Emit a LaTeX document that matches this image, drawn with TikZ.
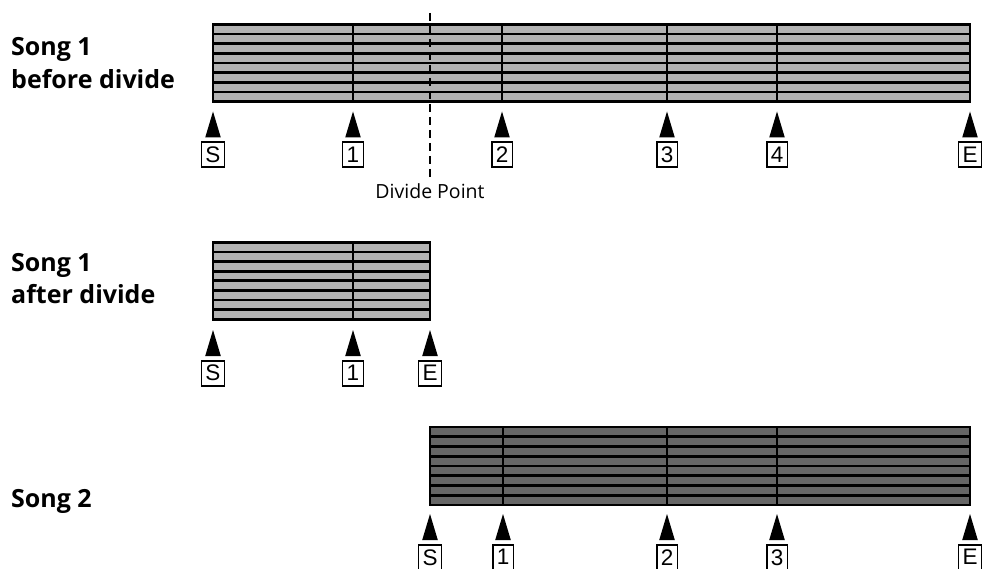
\documentclass[tikz,border=0pt]{standalone}
\usepackage{fontspec}
\setmainfont{Open Sans}
\newfontfamily\boxfont{Liberation Sans}
\definecolor{lightbar}{HTML}{B3B3B3}
\definecolor{darkbar}{HTML}{666666}
\tikzset{
  songlabel/.style={font=\fontsize{25}{28}\selectfont\bfseries, anchor=base west, inner sep=0pt},
  markbox/.style={draw, line width=1.5pt, font=\boxfont\fontsize{22.5}{22.5}\selectfont,
    minimum height=25pt, inner xsep=4pt, inner ysep=0pt, anchor=north},
  marktri/.style={fill=black},
  stripe/.style={line width=2.7pt, line cap=rect},
  division/.style={line width=1.4pt},
  divline/.style={line width=2.5pt, dash pattern=on 8pt off 5pt},
}
% bar: x1, x2, y1, y2, fill colour
\newcommand\songbar[5]{%
  \fill[#5] (#1,#3) rectangle (#2,#4);
  \foreach \i in {0,...,8}{\draw[stripe] (#1,{#3+\i*(#4-#3)/8}) -- (#2,{#3+\i*(#4-#3)/8});}
  \draw[stripe] (#1,#3) -- (#1,#4) (#2,#3) -- (#2,#4);
}
% marker: name, x, apex y, label
\newcommand\songmark[4]{%
  \fill[marktri] (#2,#3) -- (#2-7.8,#3+26) -- (#2+7.8,#3+26) -- cycle;
  \node[markbox] (#1) at (#2,#3+30) {#4};
}
\begin{document}
\begin{tikzpicture}[x=1pt,y=-1pt]
\useasboundingbox (0,0) rectangle (987,569);
% ---------- Song 1 before divide
\node[songlabel] (l1a) at (11,56) {Song 1};
\node[songlabel] (l1b) at (11,89) {before divide};
\songbar{213}{970}{24.3}{101.7}{lightbar}
\foreach \x in {353,502,667,777}{\draw[division] (\x,24.3) -- (\x,101.7);}
\songmark{a1}{213}{111.5}{S}
\songmark{a2}{353}{111.5}{1}
\songmark{a3}{502}{111.5}{2}
\songmark{a4}{667}{111.5}{3}
\songmark{a5}{777}{111.5}{4}
\songmark{a6}{970}{111.5}{E}
\coordinate (dtop) at (430,13);
\coordinate (dbot) at (430,177);
\draw[divline] (dtop) -- (dbot);
\node[font=\fontsize{19.5}{22}\selectfont, anchor=base, inner sep=0pt] (divide) at (430,199) {Divide Point};
% ---------- Song 1 after divide
\node[songlabel] (l2a) at (11,272) {Song 1};
\node[songlabel] (l2b) at (11,303) {after divide};
\songbar{213}{430}{242.3}{319.3}{lightbar}
\draw[division] (353,242.3) -- (353,319.3);
\songmark{b1}{213}{330}{S}
\songmark{b2}{353}{330}{1}
\songmark{b3}{430}{330}{E}
% ---------- Song 2
\node[songlabel] (l3a) at (11,507) {Song 2};
\songbar{430}{970}{427}{505}{darkbar}
\foreach \x in {503,667,777}{\draw[division] (\x,427) -- (\x,505);}
\songmark{c1}{430}{514}{S}
\songmark{c2}{503}{514}{1}
\songmark{c3}{667}{514}{2}
\songmark{c4}{777}{514}{3}
\songmark{c5}{970}{514}{E}
\end{tikzpicture}
\end{document}
